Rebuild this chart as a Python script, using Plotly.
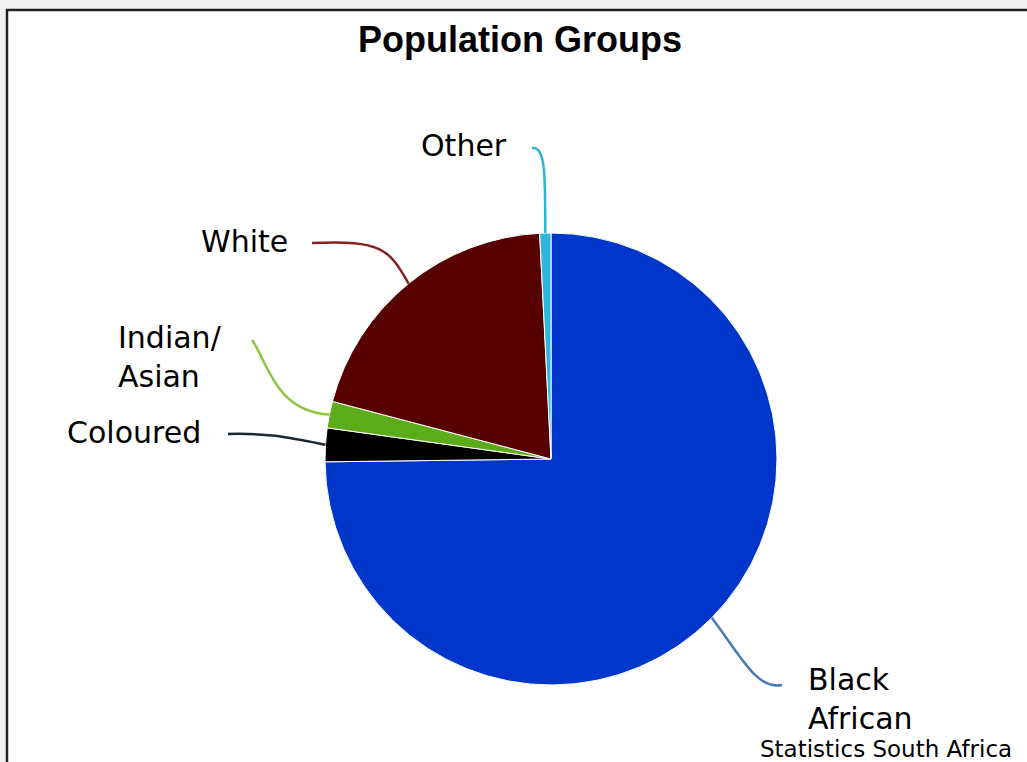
import math
import plotly.graph_objects as go

# ---- data ----
groups = ["Black African", "Coloured", "Indian/Asian", "White", "Other"]
shares = [74.8, 2.4, 1.9, 20.1, 0.8]
label_texts = ["Black<br>African", "Coloured", "Indian/<br>Asian", "White", "Other"]
slice_colors = ["#0036c9", "#000000", "#5cab18", "#560000", "#2bb8dc"]
leader_colors = ["#4a78b5", "#1c2733", "#8cc63f", "#8b1e1e", "#2bb5d4"]

W, H = 1027, 762
CX, CY, R = 551, 459, 226  # pie centre / radius in pixels


def px(x):
    return x / W


def py(y):
    return 1 - y / H


fig = go.Figure()
fig.add_trace(go.Pie(
    labels=groups, values=shares, sort=False, direction="clockwise", rotation=0,
    marker=dict(colors=slice_colors, line=dict(color="white", width=1)),
    textinfo="none", hoverinfo="label+percent", showlegend=False,
    domain=dict(x=[px(CX - R), px(CX + R)], y=[py(CY + R), py(CY - R)]),
))

# anchor points on the pie edge at each slice's mid-angle (derived from data)
total = sum(shares)
anchors = []
cum = 0
for v in shares:
    mid = (cum + v / 2) / total * 2 * math.pi
    anchors.append((CX + R * math.sin(mid), CY - R * math.cos(mid)))
    cum += v

# label end points and label placement
ends = [(782, 685), (228, 434), (252, 340), (312, 243), (532, 148)]
ann_pos = [
    dict(x=806, y=699, xanchor="left", align="left"),
    dict(x=203, y=432, xanchor="right", align="right"),
    dict(x=116, y=357, xanchor="left", align="left"),
    dict(x=290, y=241, xanchor="right", align="right"),
    dict(x=509, y=146, xanchor="right", align="right"),
]
ctrl = [
    lambda a, e: ((a[0] + 30, a[1] + 40), (e[0] - 25, e[1] + 5)),
    lambda a, e: ((a[0] - 40, a[1] - 8), (e[0] + 40, e[1] - 1)),
    lambda a, e: ((a[0] - 55, a[1] - 3), (e[0] + 15, e[1] + 20)),
    lambda a, e: ((a[0] - 20, a[1] - 35), (e[0] + 70, e[1] - 3)),
    lambda a, e: ((a[0], a[1] - 60), (a[0], e[1] - 2)),
]

shapes = [dict(type="rect", xref="paper", yref="paper", layer="below",
               x0=px(7), x1=px(W + 10), y0=py(H + 10), y1=py(10),
               fillcolor="white", line=dict(color="#222222", width=2.5))]
for i in range(len(groups)):
    a, e = anchors[i], ends[i]
    c1, c2 = ctrl[i](a, e)
    path = (f"M {px(a[0])},{py(a[1])} C {px(c1[0])},{py(c1[1])} "
            f"{px(c2[0])},{py(c2[1])} {px(e[0])},{py(e[1])}")
    shapes.append(dict(type="path", xref="paper", yref="paper", path=path,
                       line=dict(color=leader_colors[i], width=2.5)))

annotations = []
for i in range(len(groups)):
    p = ann_pos[i]
    annotations.append(dict(
        text=label_texts[i], xref="paper", yref="paper", showarrow=False,
        x=px(p["x"]), y=py(p["y"]), xanchor=p["xanchor"], yanchor="middle",
        align=p["align"], font=dict(family="DejaVu Sans", size=30, color="#000000")))
annotations.append(dict(
    text="Statistics South Africa", xref="paper", yref="paper", showarrow=False,
    x=px(1014), y=py(749), xanchor="right", yanchor="middle",
    font=dict(family="DejaVu Sans", size=23, color="#000000")))

fig.update_layout(
    width=W, height=H, margin=dict(l=0, r=0, t=0, b=0),
    paper_bgcolor="#f0f0f0",
    title=dict(text="<b>Population Groups</b>", x=px(520), xanchor="center",
               y=py(39), yanchor="middle",
               font=dict(family="Liberation Sans", size=36, color="#000000")),
    shapes=shapes, annotations=annotations,
)

fig.write_html("out.html", config={"displayModeBar": False},
               post_script="document.body.style.margin='0px';")
